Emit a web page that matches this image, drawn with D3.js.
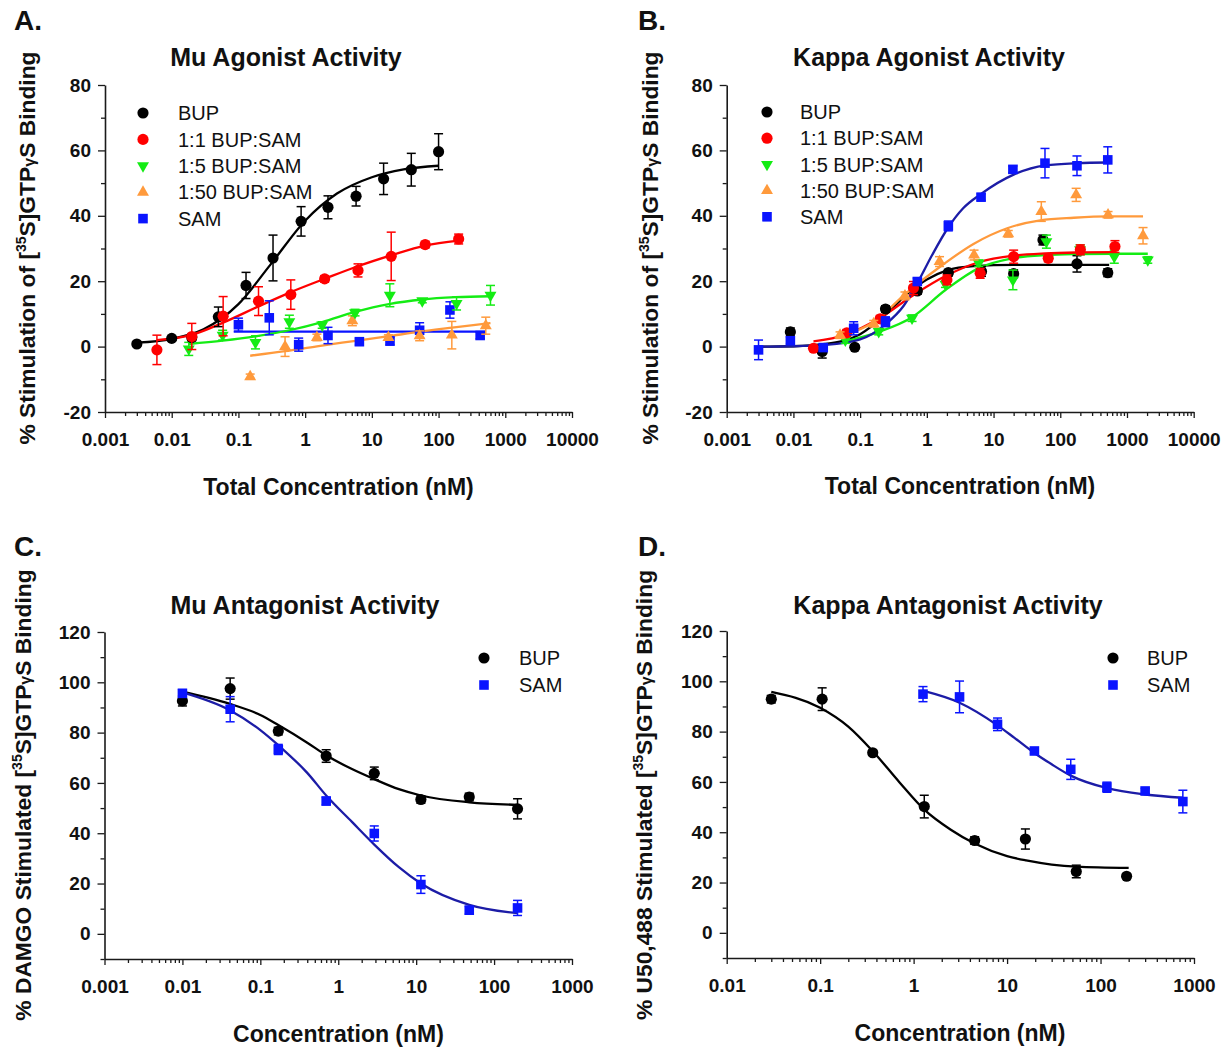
<!DOCTYPE html>
<html lang="en">
<head>
<meta charset="UTF-8">
<title>Agonist / antagonist activity</title>
<script src="https://d3js.org/d3.v7.min.js"></script>
<style>
  body { margin: 0; background: #fff; }
  svg { font-family: Arial, "Liberation Sans", sans-serif; }
</style>
</head>
<body>
<svg id="chart" width="1231" height="1051"></svg>
<script>
// ---------------- A. Mu agonist ----------------
const aBupX = [0.003, 0.01, 0.02, 0.05, 0.13, 0.33, 0.87, 2.2, 5.8, 15, 39, 100];
const aBupY = [0.8, 2.5, 2.8, 9.1, 18.7, 27.1, 38.3, 42.6, 46.0, 51.3, 54.1, 59.6];
const aBupErr = [0.6, 0.6, 1.0, 3.0, 4.0, 7.0, 4.5, 3.5, 3.0, 4.8, 5.0, 5.5];
const aBupFitX = [0.003, 0.01, 0.03, 0.1, 0.3, 1, 3, 10, 30, 100];
const aBupFitY = [1.2, 2.4, 5.3, 13.0, 25.0, 38.5, 46.8, 51.8, 54.2, 55.3];

const aR1X = [0.006, 0.02, 0.059, 0.2, 0.61, 1.96, 6.2, 19.5, 63, 200];
const aR1Y = [-1.0, 3.1, 9.3, 13.9, 15.9, 20.7, 23.3, 27.6, 31.2, 32.9];
const aR1Err = [4.5, 4.0, 6.0, 4.4, 4.5, 1.0, 2.0, 7.4, 1.0, 1.5];
const aR1FitX = [0.006, 0.02, 0.06, 0.2, 0.6, 2, 6, 20, 63, 200];
const aR1FitY = [2.0, 3.6, 7.4, 12.3, 16.6, 20.8, 24.5, 28.0, 30.9, 32.4];

const aR5X = [0.018, 0.058, 0.18, 0.58, 1.8, 5.6, 18.6, 57, 186, 600];
const aR5Y = [-0.7, 3.5, 1.3, 7.6, 6.6, 10.4, 15.7, 14.0, 13.2, 15.7];
const aR5Err = [2.0, 1.5, 2.0, 2.0, 1.0, 1.0, 3.5, 0.6, 2.0, 3.0];
const aR5FitX = [0.018, 0.058, 0.18, 0.58, 1.8, 5.6, 18, 57, 180, 600];
const aR5FitY = [0.8, 1.8, 3.1, 5.0, 7.5, 10.6, 13.0, 14.4, 15.1, 15.4];

const aR50X = [0.15, 0.5, 1.5, 5.1, 17.7, 52, 158, 510];
const aR50Y = [-9.2, 0.0, 2.8, 7.9, 2.8, 3.3, 3.5, 6.4];
const aR50Err = [0.8, 3.0, 1.0, 1.5, 0.8, 1.5, 4.2, 2.6];
const aR50FitX = [0.15, 0.5, 1.5, 5, 17, 50, 160, 600];
const aR50FitY = [-2.8, -1.4, 0.1, 1.6, 3.1, 4.5, 5.8, 7.2];

const aSamX = [0.1, 0.29, 0.8, 2.2, 6.5, 18.7, 52, 148, 420];
const aSamY = [6.7, 8.8, 0.6, 3.4, 1.5, 1.7, 5.0, 11.2, 3.4];
const aSamErr = [2.0, 5.2, 2.0, 2.5, 1.0, 1.2, 2.3, 2.5, 1.0];
const aSamFitX = [0.085, 500];
const aSamFitY = [4.6, 4.6];

// ---------------- B. Kappa agonist ----------------
const bBupX = [0.009, 0.027, 0.083, 0.24, 0.72, 2.1, 6.6, 20, 55, 178, 515];
const bBupY = [4.5, -1.5, -0.2, 11.5, 17.0, 22.6, 23.0, 22.3, 32.6, 25.3, 22.6];
const bBupErr = [1.2, 2.0, 0.6, 1.0, 1.0, 1.0, 1.5, 1.2, 1.5, 2.5, 1.2];
const bBupFitX = [0.003, 0.01, 0.03, 0.1, 0.24, 0.5, 1, 2, 5, 20, 540];
const bBupFitY = [0.0, 0.1, 0.8, 3.8, 9.8, 16.0, 20.5, 23.3, 24.6, 25.0, 25.0];

const bR1X = [0.02, 0.063, 0.2, 0.63, 2.0, 6.3, 20, 66, 200, 660];
const bR1Y = [-0.5, 4.2, 8.5, 17.9, 20.4, 22.4, 27.5, 27.0, 29.6, 30.6];
const bR1Err = [0.8, 1.0, 1.0, 2.0, 1.5, 1.5, 2.0, 1.0, 1.5, 1.8];
const bR1FitX = [0.02, 0.06, 0.2, 0.6, 2, 6, 20, 60, 200, 660];
const bR1FitY = [1.6, 3.6, 8.8, 15.5, 21.8, 25.8, 27.8, 28.5, 28.8, 28.9];

const bR5X = [0.06, 0.19, 0.6, 1.9, 6.0, 19.5, 62, 198, 645, 2050];
const bR5Y = [2.0, 4.6, 8.7, 19.1, 25.5, 20.4, 32.1, 29.6, 27.5, 26.5];
const bR5Err = [1.0, 1.0, 1.0, 1.0, 1.0, 3.0, 2.0, 1.5, 2.0, 1.0];
const bR5FitX = [0.06, 0.19, 0.6, 1.9, 6, 19, 60, 190, 600, 2050];
const bR5FitY = [1.6, 4.5, 9.0, 17.3, 24.0, 27.0, 28.0, 28.3, 28.4, 28.4];

const bR50X = [0.05, 0.16, 0.47, 1.55, 5.1, 16.6, 52, 173, 520, 1740];
const bR50Y = [3.5, 7.0, 15.5, 26.0, 28.0, 34.5, 41.3, 46.4, 40.3, 33.9];
const bR50Err = [1.0, 1.0, 1.2, 1.5, 1.5, 1.0, 3.0, 2.0, 1.0, 2.5];
const bR50FitX = [0.05, 0.16, 0.5, 1.6, 5, 16, 50, 160, 520, 1740];
const bR50FitY = [3.0, 7.5, 16.5, 24.5, 31.4, 36.2, 38.6, 39.4, 39.8, 39.8];

const bSamX = [0.003, 0.009, 0.028, 0.08, 0.24, 0.72, 2.1, 6.5, 19.5, 59, 178, 515];
const bSamY = [-1.0, 1.8, -0.3, 5.6, 7.6, 19.9, 36.9, 45.7, 54.2, 56.1, 55.3, 57.1];
const bSamErr = [3.0, 1.0, 1.0, 2.0, 1.5, 1.0, 1.5, 1.0, 1.0, 4.5, 3.0, 4.0];
const bSamFitX = [0.003, 0.01, 0.03, 0.1, 0.24, 0.45, 0.72, 1.2, 2.1, 3.5, 6.5, 20, 60, 180, 515];
const bSamFitY = [0.0, 0.1, 0.5, 2.2, 6.8, 12.5, 19.4, 28.0, 36.5, 42.3, 46.7, 52.6, 55.4, 56.1, 56.3];

// ---------------- C. Mu antagonist ----------------
const cBupX = [0.01, 0.041, 0.17, 0.7, 2.9, 11.5, 48, 200];
const cBupY = [92.6, 97.5, 80.6, 70.7, 63.8, 53.4, 54.4, 49.7];
const cBupErr = [2.0, 4.2, 1.5, 2.5, 2.5, 1.5, 1.5, 4.0];
const cBupFitX = [0.01, 0.04, 0.1, 0.17, 0.4, 0.7, 1.5, 2.9, 6, 11.5, 48, 200];
const cBupFitY = [96.3, 91.5, 87.0, 83.0, 76.0, 71.0, 65.5, 61.5, 57.5, 55.0, 52.3, 51.3];

const cSamX = [0.01, 0.041, 0.17, 0.7, 2.9, 11.5, 48, 200];
const cSamY = [95.6, 89.3, 73.3, 52.8, 39.9, 19.6, 9.4, 10.3];
const cSamErr = [1.5, 5.0, 2.0, 1.5, 3.0, 3.5, 1.5, 3.0];
const cSamFitX = [0.01, 0.04, 0.1, 0.17, 0.4, 0.7, 1.5, 2.9, 6, 11.5, 48, 200];
const cSamFitY = [96.0, 89.0, 81.0, 75.0, 64.0, 55.0, 44.5, 35.5, 26.5, 20.0, 11.5, 8.2];

// ---------------- D. Kappa antagonist ----------------
const dBupX = [0.03, 0.105, 0.365, 1.3, 4.5, 15.7, 55, 190];
const dBupY = [92.9, 92.9, 71.6, 50.2, 36.7, 37.3, 24.4, 22.5];
const dBupErr = [1.5, 4.5, 1.0, 4.5, 1.5, 4.0, 2.5, 1.0];
const dBupFitX = [0.03, 0.1, 0.2, 0.37, 0.7, 1.3, 2.5, 4.5, 10, 16, 55, 200];
const dBupFitY = [95.8, 89.5, 82.0, 72.0, 60.0, 49.0, 41.0, 35.5, 30.5, 28.8, 26.3, 25.8];

const dSamX = [1.26, 3.1, 7.9, 19.6, 48, 117, 300, 760];
const dSamY = [94.9, 93.8, 82.9, 72.3, 65.0, 57.9, 56.4, 52.2];
const dSamErr = [3.0, 6.3, 2.5, 1.0, 4.0, 2.0, 1.0, 4.5];
const dSamFitX = [1.25, 3.1, 7.9, 12, 19.6, 30, 48, 118, 300, 760];
const dSamFitY = [96.3, 91.5, 82.5, 77.5, 71.5, 67.0, 62.5, 57.5, 55.0, 53.7];

// ---------------- axes ----------------
const agoXTicks = [0.001, 0.01, 0.1, 1, 10, 100, 1000, 10000];
const agoXLabels = ["0.001", "0.01", "0.1", "1", "10", "100", "1000", "10000"];
const agoYTicks = [-20, 0, 20, 40, 60, 80];
const agoYMinor = [-10, 10, 30, 50, 70];
const muAntXTicks = [0.001, 0.01, 0.1, 1, 10, 100, 1000];
const muAntXLabels = ["0.001", "0.01", "0.1", "1", "10", "100", "1000"];
const kAntXTicks = [0.01, 0.1, 1, 10, 100, 1000];
const kAntXLabels = ["0.01", "0.1", "1", "10", "100", "1000"];
const antYTicks = [0, 20, 40, 60, 80, 100, 120];
const antYMinor = [-10, 10, 30, 50, 70, 90, 110];

const agoNames = ["BUP", "1:1 BUP:SAM", "1:5 BUP:SAM", "1:50 BUP:SAM", "SAM"];
const antNames = ["BUP", "SAM"];

// styles
const BLACK = "#000", RED = "#ff0000", GREEN = "#14ec14", ORANGE = "#ff9a3c",
      BLUE = "#0a14ff", NAVY = "#1c1ca6";
const shapes = {
  circle: { type: d3.symbolCircle, size: 98, rot: 0 },
  square: { type: d3.symbolSquare, size: 92, rot: 0 },
  up: { type: d3.symbolTriangle, size: 62, rot: 0 },
  down: { type: d3.symbolTriangle, size: 62, rot: 180 }
};

function ser(name, shape, color, line, x, y, err, fx, fy) {
  return { name, shape, color, line, x, y, err, fx, fy };
}

const panels = [
  {
    letter: "A.", letterPos: [14, 30], title: "Mu Agonist Activity", titlePos: [286, 66],
    xDomain: [0.001, 10000], xRange: [105, 572], yDomain: [-20, 80], yRange: [412, 85],
    xTicks: agoXTicks, xLabels: agoXLabels, yTicks: agoYTicks, yMinor: agoYMinor,
    xTitle: "Total Concentration (nM)", xTitlePos: [338.5, 495],
    yTitle: "% Stimulation of", yTitlePos: [35, 248],
    legend: { mx: 143, tx: 178, y0: 113, dy: 26.4 },
    series: [
      ser(agoNames[4], "square", BLUE, BLUE, aSamX, aSamY, aSamErr, aSamFitX, aSamFitY),
      ser(agoNames[3], "up", ORANGE, ORANGE, aR50X, aR50Y, aR50Err, aR50FitX, aR50FitY),
      ser(agoNames[2], "down", GREEN, GREEN, aR5X, aR5Y, aR5Err, aR5FitX, aR5FitY),
      ser(agoNames[0], "circle", BLACK, BLACK, aBupX, aBupY, aBupErr, aBupFitX, aBupFitY),
      ser(agoNames[1], "circle", RED, RED, aR1X, aR1Y, aR1Err, aR1FitX, aR1FitY)
    ],
    legendOrder: agoNames
  },
  {
    letter: "B.", letterPos: [638, 30], title: "Kappa Agonist Activity", titlePos: [929, 66],
    xDomain: [0.001, 10000], xRange: [726.7, 1193.7], yDomain: [-20, 80], yRange: [412, 85],
    xTicks: agoXTicks, xLabels: agoXLabels, yTicks: agoYTicks, yMinor: agoYMinor,
    xTitle: "Total Concentration (nM)", xTitlePos: [960, 494],
    yTitle: "% Stimulation of", yTitlePos: [658, 248],
    legend: { mx: 767, tx: 800, y0: 112, dy: 26.2 },
    series: [
      ser(agoNames[0], "circle", BLACK, BLACK, bBupX, bBupY, bBupErr, bBupFitX, bBupFitY),
      ser(agoNames[2], "down", GREEN, GREEN, bR5X, bR5Y, bR5Err, bR5FitX, bR5FitY),
      ser(agoNames[1], "circle", RED, RED, bR1X, bR1Y, bR1Err, bR1FitX, bR1FitY),
      ser(agoNames[3], "up", ORANGE, ORANGE, bR50X, bR50Y, bR50Err, bR50FitX, bR50FitY),
      ser(agoNames[4], "square", BLUE, NAVY, bSamX, bSamY, bSamErr, bSamFitX, bSamFitY)
    ],
    legendOrder: agoNames
  },
  {
    letter: "C.", letterPos: [14, 556], title: "Mu Antagonist Activity", titlePos: [305, 614],
    xDomain: [0.001, 1000], xRange: [104.5, 572], yDomain: [-10, 120], yRange: [959, 632],
    xTicks: muAntXTicks, xLabels: muAntXLabels, yTicks: antYTicks, yMinor: antYMinor,
    xTitle: "Concentration (nM)", xTitlePos: [338.5, 1042],
    yTitle: "% DAMGO Stimulated", yTitlePos: [31, 795],
    legend: { mx: 484, tx: 519, y0: 658, dy: 27 },
    series: [
      ser(antNames[0], "circle", BLACK, BLACK, cBupX, cBupY, cBupErr, cBupFitX, cBupFitY),
      ser(antNames[1], "square", BLUE, NAVY, cSamX, cSamY, cSamErr, cSamFitX, cSamFitY)
    ],
    legendOrder: antNames
  },
  {
    letter: "D.", letterPos: [638, 556], title: "Kappa Antagonist Activity", titlePos: [948, 614],
    xDomain: [0.01, 1000], xRange: [726.7, 1194], yDomain: [-10, 120], yRange: [958, 631],
    xTicks: kAntXTicks, xLabels: kAntXLabels, yTicks: antYTicks, yMinor: antYMinor,
    xTitle: "Concentration (nM)", xTitlePos: [960, 1041],
    yTitle: "% U50,488 Stimulated", yTitlePos: [652, 795],
    legend: { mx: 1113, tx: 1147, y0: 658, dy: 27 },
    series: [
      ser(antNames[0], "circle", BLACK, BLACK, dBupX, dBupY, dBupErr, dBupFitX, dBupFitY),
      ser(antNames[1], "square", BLUE, NAVY, dSamX, dSamY, dSamErr, dSamFitX, dSamFitY)
    ],
    legendOrder: antNames
  }
];

const svg = d3.select("#chart");

function symbolPath(shape) {
  const s = shapes[shape];
  return d3.symbol().type(s.type).size(s.size)();
}

function drawPanel(p) {
  const g = svg.append("g");
  const x = d3.scaleLog().domain(p.xDomain).range(p.xRange);
  const y = d3.scaleLinear().domain(p.yDomain).range(p.yRange);

  // minor log ticks 2..9 of every decade
  const minorX = [];
  for (let e = Math.log10(p.xDomain[0]); e < Math.log10(p.xDomain[1]) - 0.5; e++) {
    for (let k = 2; k <= 9; k++) minorX.push(k * Math.pow(10, e));
  }

  const xMinorAxis = g.append("g")
    .attr("transform", `translate(0,${p.yRange[0]})`)
    .call(d3.axisBottom(x).tickValues(minorX).tickSize(4).tickFormat("").tickSizeOuter(0));
  xMinorAxis.select(".domain").remove();

  g.append("g")
    .attr("transform", `translate(0,${p.yRange[0]})`)
    .call(d3.axisBottom(x).tickValues(p.xTicks)
      .tickFormat((d, i) => p.xLabels[i]).tickSize(6).tickPadding(15).tickSizeOuter(0));

  const yMinorAxis = g.append("g")
    .attr("transform", `translate(${p.xRange[0]},0)`)
    .call(d3.axisLeft(y).tickValues(p.yMinor).tickSize(4).tickFormat("").tickSizeOuter(0));
  yMinorAxis.select(".domain").remove();

  // plain hyphen for negative labels, as in the figure
  g.append("g")
    .attr("transform", `translate(${p.xRange[0]},0)`)
    .call(d3.axisLeft(y).tickValues(p.yTicks).tickFormat(d => (d < 0 ? "-" + (-d) : "" + d))
      .tickSize(7).tickPadding(7).tickSizeOuter(0));

  g.selectAll(".domain").attr("stroke", "#1a1a1a").attr("stroke-width", 1.6);
  g.selectAll(".tick line").attr("stroke", "#1a1a1a").attr("stroke-width", 1.3);
  g.selectAll(".tick text")
    .attr("font-family", "Arial, 'Liberation Sans', sans-serif")
    .attr("font-size", 19).attr("font-weight", "bold").attr("fill", "#111");

  // fitted curves
  const line = d3.line().x(d => x(d[0])).y(d => y(d[1])).curve(d3.curveMonotoneX);
  p.series.forEach(s => {
    g.append("path")
      .datum(d3.zip(s.fx, s.fy))
      .attr("d", line)
      .attr("fill", "none")
      .attr("stroke", s.line)
      .attr("stroke-width", 2.3);
  });

  // error bars, then markers
  p.series.forEach(s => {
    const pts = s.x.map((v, i) => ({ x: v, y: s.y[i], e: s.err[i] }));
    const eb = g.append("g").attr("stroke", s.color).attr("stroke-width", 1.5);
    pts.forEach(d => {
      const cx = x(d.x), y1 = y(d.y - d.e), y2 = y(d.y + d.e);
      eb.append("line").attr("x1", cx).attr("x2", cx).attr("y1", y1).attr("y2", y2);
      eb.append("line").attr("x1", cx - 4.5).attr("x2", cx + 4.5).attr("y1", y1).attr("y2", y1);
      eb.append("line").attr("x1", cx - 4.5).attr("x2", cx + 4.5).attr("y1", y2).attr("y2", y2);
    });
    g.append("g").selectAll("path")
      .data(pts)
      .join("path")
      .attr("d", symbolPath(s.shape))
      .attr("transform", d => `translate(${x(d.x)},${y(d.y)}) rotate(${shapes[s.shape].rot})`)
      .attr("fill", s.color);
  });

  // legend
  const lg = g.append("g");
  p.legendOrder.forEach((name, i) => {
    const s = p.series.find(t => t.name === name);
    const ly = p.legend.y0 + i * p.legend.dy;
    lg.append("path")
      .attr("d", symbolPath(s.shape))
      .attr("transform", `translate(${p.legend.mx},${ly}) rotate(${shapes[s.shape].rot})`)
      .attr("fill", s.color);
    lg.append("text")
      .attr("x", p.legend.tx).attr("y", ly)
      .attr("dy", "0.36em")
      .attr("font-size", 20).attr("fill", "#111")
      .text(name);
  });

  // texts
  g.append("text").attr("x", p.letterPos[0]).attr("y", p.letterPos[1])
    .attr("font-size", 28).attr("font-weight", "bold").attr("fill", "#111").text(p.letter);
  g.append("text").attr("x", p.titlePos[0]).attr("y", p.titlePos[1])
    .attr("text-anchor", "middle").attr("font-size", 25).attr("font-weight", "bold")
    .attr("fill", "#111").text(p.title);
  g.append("text").attr("x", p.xTitlePos[0]).attr("y", p.xTitlePos[1])
    .attr("text-anchor", "middle").attr("font-size", 23).attr("font-weight", "bold")
    .attr("fill", "#111").text(p.xTitle);

  const yt = g.append("text")
    .attr("transform", `translate(${p.yTitlePos[0]},${p.yTitlePos[1]}) rotate(-90)`)
    .attr("text-anchor", "middle").attr("font-size", 22.8).attr("font-weight", "bold")
    .attr("fill", "#111");
  yt.append("tspan").text(p.yTitle + " [");
  yt.append("tspan").attr("dy", -9).attr("font-size", 14).text("35");
  yt.append("tspan").attr("dy", 9).text("S]GTP");
  yt.append("tspan").attr("font-size", 16).text("γ");
  yt.append("tspan").text("S Binding");
}

panels.forEach(drawPanel);
</script>
</body>
</html>
